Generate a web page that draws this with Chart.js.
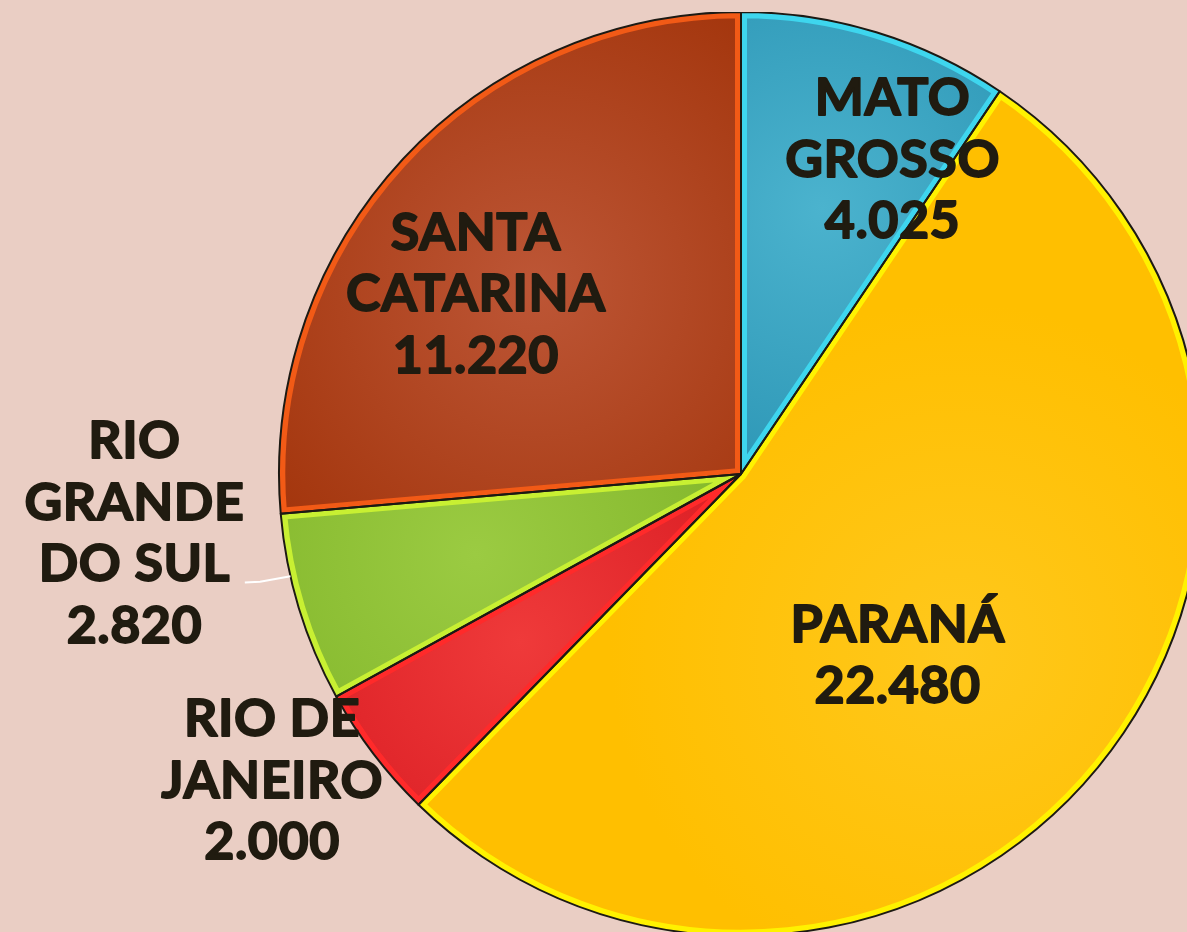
<!DOCTYPE html>
<html>
<head>
<meta charset="utf-8">
<script src="https://cdn.jsdelivr.net/npm/chart.js@4"></script>
<style>
  html, body { margin: 0; padding: 0; background: #eacec4; overflow: hidden; width: 1187px; height: 932px; }
  #wrap { position: absolute; left: 0; top: 12px; width: 1482px; height: 924px; }
</style>
</head>
<body>
<div id="wrap"><canvas id="pieChart"></canvas></div>
<script>
// Production by state (slices go clockwise from 12 o'clock)
const categories = [['MATO', 'GROSSO'], ['PARANÁ'], ['RIO DE', 'JANEIRO'], ['RIO', 'GRANDE', 'DO SUL'], ['SANTA', 'CATARINA']];
const values = [4025, 22480, 2000, 2820, 11220];

const baseColors = ['#2690b0', '#ffbf00', '#d5161e', '#7db226', '#a3350c'];
const lightColors = ['#4bb3ce', '#ffc81c', '#ef3a3a', '#9bcb42', '#bd5636'];
const edgeColors = ['#3ed6ee', '#fff200', '#ff2a2a', '#c8f032', '#f25a16'];

// where each label block sits, relative to the pie centre, in radius units
const labelSpots = [[0.328, -0.683], [0.339, 0.390], [-1.015, 0.661], [-1.313, 0.126], [-0.574, -0.392]];

function fmt(v) {
    return String(v).replace(/\B(?=(\d{3})+(?!\d))/g, '.');
}

// soft radial shading inside every slice
function sliceFill(c) {
    const chart = c.chart;
    const area = chart.chartArea;
    const i = c.dataIndex;
    if (!area) return baseColors[i];
    const total = values.reduce((a, b) => a + b, 0);
    let start = -Math.PI / 2;
    for (let k = 0; k < i; k++) start += values[k] / total * Math.PI * 2;
    const mid = start + values[i] / total * Math.PI;
    const cx = (area.left + area.right) / 2;
    const cy = (area.top + area.bottom) / 2;
    const r = Math.min(area.width, area.height) / 2;
    const gx = cx + Math.cos(mid) * r * 0.6;
    const gy = cy + Math.sin(mid) * r * 0.6;
    const g = chart.ctx.createRadialGradient(gx, gy, 0, gx, gy, r * 0.75);
    g.addColorStop(0, lightColors[i]);
    g.addColorStop(1, baseColors[i]);
    return g;
}

const labelPlugin = {
    id: 'sliceLabels',
    afterDatasetsDraw(chart) {
        const ctx = chart.ctx;
        const arcs = chart.getDatasetMeta(0).data;
        ctx.save();

        // thin dark outline round each slice
        ctx.strokeStyle = '#1c1a14';
        ctx.lineWidth = 2;
        ctx.lineJoin = 'round';
        arcs.forEach(a => {
            ctx.beginPath();
            ctx.moveTo(a.x, a.y);
            ctx.arc(a.x, a.y, a.outerRadius, a.startAngle, a.endAngle);
            ctx.closePath();
            ctx.stroke();
        });

        // leader line for Rio Grande do Sul
        const rgs = arcs[3];
        const ang = 167.2 * Math.PI / 180;
        ctx.strokeStyle = '#ffffff';
        ctx.lineWidth = 2;
        ctx.beginPath();
        ctx.moveTo(rgs.x - 1.074 * rgs.outerRadius, rgs.y + 0.235 * rgs.outerRadius);
        ctx.lineTo(rgs.x - 1.041 * rgs.outerRadius, rgs.y + 0.233 * rgs.outerRadius);
        ctx.lineTo(rgs.x + Math.cos(ang) * rgs.outerRadius, rgs.y + Math.sin(ang) * rgs.outerRadius);
        ctx.stroke();

        // labels (a light stroke makes the bold face a bit heavier)
        ctx.font = 'bold 52px Lato';
        ctx.letterSpacing = '0.5px';
        ctx.fillStyle = '#201b10';
        ctx.strokeStyle = '#201b10';
        ctx.lineWidth = 1.8;
        ctx.textAlign = 'center';
        ctx.textBaseline = 'alphabetic';
        const lh = 61.5;
        arcs.forEach((a, i) => {
            const lines = categories[i].concat(fmt(values[i]));
            const bx = a.x + labelSpots[i][0] * a.outerRadius;
            const by = a.y + labelSpots[i][1] * a.outerRadius;
            lines.forEach((t, j) => {
                const y = by - (lines.length - 1) * lh / 2 + j * lh + 18.5;
                ctx.fillText(t, bx, y);
                ctx.strokeText(t, bx, y);
            });
        });
        ctx.restore();
    }
};

const ctx = document.getElementById('pieChart').getContext('2d');
const pieChart = new Chart(ctx, {
    type: 'pie',
    data: {
        labels: categories,
        datasets: [{
            data: values,
            backgroundColor: sliceFill,
            borderColor: edgeColors,
            borderWidth: 6,
            borderAlign: 'inner'
        }]
    },
    options: {
        responsive: true,
        maintainAspectRatio: false,
        animation: false,
        layout: { padding: 0 },
        plugins: {
            legend: { display: false },
            tooltip: { enabled: false }
        }
    },
    plugins: [labelPlugin]
});
</script>
</body>
</html>
